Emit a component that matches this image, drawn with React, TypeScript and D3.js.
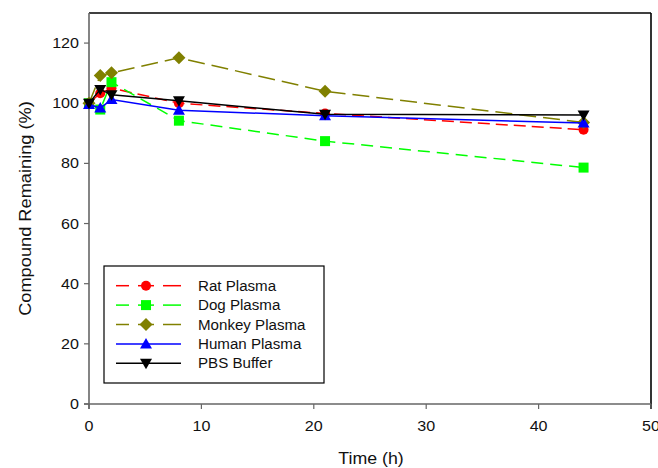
import React from "react";
import * as d3 from "d3";

const times = [0, 1, 2, 8, 21, 44];
const ratPlasma = [100, 103.3, 105, 100, 96.6, 91.2];
const dogPlasma = [100, 97.9, 107, 94.2, 87.4, 78.6];
const monkeyPlasma = [100, 109.2, 110.1, 115.1, 104, 93.6];
const humanPlasma = [99.6, 98.4, 101.2, 97.7, 95.8, 93.4];
const pbsBuffer = [100, 104.6, 102.8, 100.8, 96.3, 96.1];

const xTicks = [0, 10, 20, 30, 40, 50];
const yTicks = [0, 20, 40, 60, 80, 100, 120];

type Series = { name: string; values: number[]; color: string; dash: string | null; marker: string };

const series: Series[] = [
  { name: "Rat Plasma", values: ratPlasma, color: "#FF0000", dash: "12,6", marker: "circle" },
  { name: "Dog Plasma", values: dogPlasma, color: "#00FF00", dash: "12,7", marker: "square" },
  { name: "Monkey Plasma", values: monkeyPlasma, color: "#808000", dash: "17,7", marker: "diamond" },
  { name: "Human Plasma", values: humanPlasma, color: "#0000FF", dash: null, marker: "triangleUp" },
  { name: "PBS Buffer", values: pbsBuffer, color: "#000000", dash: null, marker: "triangleDown" },
];

const W = 658, H = 468;
const left = 89, right = 651, top = 13, bottom = 404;
const font = "'Liberation Sans', Arial, sans-serif";

function Marker({ type, x, y, color }: { type: string; x: number; y: number; color: string }) {
  if (type === "circle") return <circle cx={x} cy={y} r={5} fill={color} />;
  if (type === "square") return <rect x={x - 5} y={y - 5} width={10} height={10} fill={color} />;
  if (type === "diamond")
    return <path d={`M${x},${y - 6.5}L${x + 6.5},${y}L${x},${y + 6.5}L${x - 6.5},${y}Z`} fill={color} />;
  if (type === "triangleUp")
    return <path d={`M${x},${y - 6}L${x + 6},${y + 4.5}L${x - 6},${y + 4.5}Z`} fill={color} />;
  return <path d={`M${x},${y + 6}L${x + 6},${y - 4.5}L${x - 6},${y - 4.5}Z`} fill={color} />;
}

function T({
  x, y, size, sx, anchor, rotate, children,
}: {
  x: number; y: number; size: number; sx: number; anchor?: string; rotate?: boolean; children: React.ReactNode;
}) {
  const tr = rotate
    ? `translate(${x},${y}) rotate(-90) scale(${sx},1)`
    : `translate(${x},${y}) scale(${sx},1)`;
  return (
    <text transform={tr} textAnchor={anchor || "start"} fontSize={size} fill="#111">
      {children}
    </text>
  );
}

export default function App() {
  const x = d3.scaleLinear().domain([0, 50]).range([left, right]);
  const y = d3.scaleLinear().domain([0, 130]).range([bottom, top]);
  const line = d3
    .line<number>()
    .x((_, i) => x(times[i]))
    .y((d) => y(d));

  const legX = 104, legY = 266, legW = 220, legH = 117;
  const rowY = (i: number) => 285.7 + i * 19.4;

  return (
    <svg width={W} height={H} style={{ position: "absolute", left: 0, top: 0 }} fontFamily={font}>
      <rect width={W} height={H} fill="#fff" />
      <line x1={left} y1={top} x2={right} y2={top} stroke="#000" strokeWidth={1.3} />
      <line x1={right} y1={top} x2={right} y2={bottom + 5} stroke="#000" strokeWidth={1.6} />
      <line x1={left} y1={top} x2={left} y2={bottom + 5} stroke="#666" strokeWidth={1.6} />
      <line x1={left - 5} y1={bottom} x2={right} y2={bottom} stroke="#666" strokeWidth={1.6} />
      {yTicks.map((t) => (
        <g key={"y" + t}>
          <line x1={left - 5} x2={left} y1={y(t)} y2={y(t)} stroke="#666" strokeWidth={1.2} />
          <T x={left - 10} y={y(t) + 5} size={14} sx={1.15} anchor="end">
            {t}
          </T>
        </g>
      ))}
      {xTicks.map((t) => (
        <g key={"x" + t}>
          <line x1={x(t)} x2={x(t)} y1={bottom} y2={bottom + 5} stroke="#666" strokeWidth={1.2} />
          <T x={x(t)} y={431} size={14} sx={1.15} anchor="middle">
            {t}
          </T>
        </g>
      ))}
      <T x={371} y={463.5} size={16} sx={1.11} anchor="middle">
        Time (h)
      </T>
      <T x={31} y={(top + bottom) / 2} size={16} sx={1.14} anchor="middle" rotate>
        Compound Remaining (%)
      </T>
      {series.map((s) => (
        <g key={s.name}>
          <path
            d={line(s.values) || ""}
            fill="none"
            stroke={s.color}
            strokeWidth={1.5}
            strokeDasharray={s.dash || undefined}
          />
          {s.values.map((v, i) => (
            <Marker key={i} type={s.marker} x={x(times[i])} y={y(v)} color={s.color} />
          ))}
        </g>
      ))}
      <rect x={legX} y={legY} width={legW} height={legH} fill="#fff" stroke="#000" strokeWidth={1.2} />
      {series.map((s, i) => (
        <g key={"leg" + s.name}>
          {s.dash ? (
            <>
              <line x1={116} x2={129} y1={rowY(i)} y2={rowY(i)} stroke={s.color} strokeWidth={1.5} />
              <line x1={138} x2={154} y1={rowY(i)} y2={rowY(i)} stroke={s.color} strokeWidth={1.5} />
              <line x1={163} x2={181} y1={rowY(i)} y2={rowY(i)} stroke={s.color} strokeWidth={1.5} />
            </>
          ) : (
            <line x1={116} x2={181} y1={rowY(i)} y2={rowY(i)} stroke={s.color} strokeWidth={1.5} />
          )}
          <Marker type={s.marker} x={146} y={rowY(i)} color={s.color} />
          <T x={198} y={rowY(i) + 5} size={14} sx={1.08}>
            {s.name}
          </T>
        </g>
      ))}
    </svg>
  );
}
